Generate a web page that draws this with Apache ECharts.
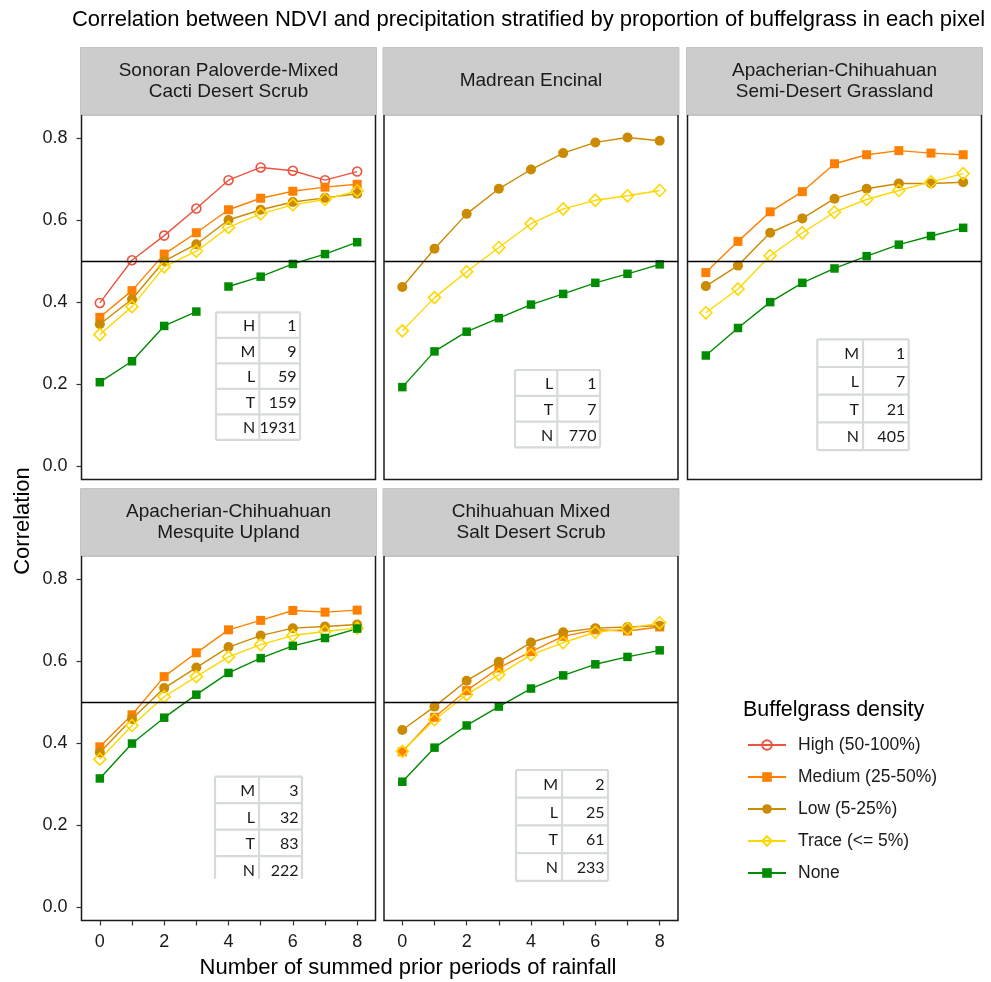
<!DOCTYPE html>
<html><head><meta charset="utf-8">
<script src="https://cdn.jsdelivr.net/npm/echarts@6/dist/echarts.min.js"></script>
<style>html,body{margin:0;padding:0;background:#fff}#c{width:991px;height:982px}</style>
</head><body><div id="c"></div>
<script>
// ---------------- data ----------------
const periods = [0, 1, 2, 3, 4, 5, 6, 7, 8];
const xTickLabels = [0, 2, 4, 6, 8];
const yTicks = [0, 0.2, 0.4, 0.6, 0.8];
const refLine = 0.5;
const densityNames = ['High (50-100%)', 'Medium (25-50%)', 'Low (5-25%)', 'Trace (<= 5%)', 'None'];
const panelNames = [
  'Sonoran Paloverde-Mixed\nCacti Desert Scrub',
  'Madrean Encinal',
  'Apacherian-Chihuahuan\nSemi-Desert Grassland',
  'Apacherian-Chihuahuan\nMesquite Upland',
  'Chihuahuan Mixed\nSalt Desert Scrub'
];

const sonoranHigh   = [0.398, 0.502, 0.562, 0.628, 0.697, 0.728, 0.720, 0.697, 0.718];
const sonoranMedium = [0.363, 0.428, 0.517, 0.569, 0.625, 0.653, 0.670, 0.680, 0.687];
const sonoranLow    = [0.346, 0.407, 0.500, 0.541, 0.600, 0.625, 0.644, 0.654, 0.664];
const sonoranTrace  = [0.321, 0.389, 0.486, 0.524, 0.582, 0.615, 0.637, 0.650, 0.671];
const sonoranNone   = [0.205, 0.256, 0.342, 0.377, 0.438, 0.462, 0.493, 0.517, 0.546];
const sonoranNoneRestart = 4; // line is broken between period 3 and period 4

const madreanLow   = [0.437, 0.530, 0.615, 0.676, 0.723, 0.763, 0.789, 0.801, 0.793];
const madreanTrace = [0.330, 0.411, 0.474, 0.533, 0.591, 0.627, 0.648, 0.659, 0.672];
const madreanNone  = [0.193, 0.280, 0.328, 0.361, 0.394, 0.420, 0.447, 0.469, 0.492];

const grasslandMedium = [0.472, 0.548, 0.620, 0.669, 0.737, 0.759, 0.769, 0.763, 0.759];
const grasslandLow    = [0.439, 0.489, 0.569, 0.604, 0.652, 0.676, 0.689, 0.689, 0.692];
const grasslandTrace  = [0.374, 0.432, 0.513, 0.569, 0.619, 0.650, 0.672, 0.693, 0.713];
const grasslandNone   = [0.270, 0.337, 0.400, 0.447, 0.482, 0.512, 0.540, 0.561, 0.581];

const mesquiteMedium = [0.391, 0.469, 0.562, 0.620, 0.676, 0.699, 0.723, 0.719, 0.724];
const mesquiteLow    = [0.377, 0.459, 0.534, 0.584, 0.634, 0.662, 0.680, 0.684, 0.689];
const mesquiteTrace  = [0.361, 0.443, 0.513, 0.562, 0.610, 0.640, 0.662, 0.672, 0.680];
const mesquiteNone   = [0.314, 0.399, 0.462, 0.518, 0.571, 0.607, 0.637, 0.656, 0.679];

const saltMedium = [0.379, 0.463, 0.528, 0.583, 0.623, 0.660, 0.676, 0.673, 0.683];
const saltLow    = [0.432, 0.489, 0.552, 0.598, 0.645, 0.670, 0.680, 0.683, 0.686];
const saltTrace  = [0.380, 0.457, 0.518, 0.567, 0.615, 0.645, 0.670, 0.679, 0.693];
const saltNone   = [0.306, 0.389, 0.443, 0.489, 0.533, 0.565, 0.592, 0.610, 0.626];

// pixel counts tables
const sonoranTableKeys = ['H', 'M', 'L', 'T', 'N'];
const sonoranTableCounts = [1, 9, 59, 159, 1931];
const madreanTableKeys = ['L', 'T', 'N'];
const madreanTableCounts = [1, 7, 770];
const grasslandTableKeys = ['M', 'L', 'T', 'N'];
const grasslandTableCounts = [1, 7, 21, 405];
const mesquiteTableKeys = ['M', 'L', 'T', 'N'];
const mesquiteTableCounts = [3, 32, 83, 222];
const saltTableKeys = ['M', 'L', 'T', 'N'];
const saltTableCounts = [2, 25, 61, 233];

// ---------------- layout / style ----------------
const FONT = '"Liberation Sans", Arial, sans-serif';
const TXT = '#1a1a1a';
const panelBoxes = [
  {left: 81.5, top: 114.5, width: 294, height: 365},
  {left: 384, top: 114.5, width: 294, height: 365},
  {left: 687.5, top: 114.5, width: 294, height: 365},
  {left: 81.5, top: 555.5, width: 294, height: 365},
  {left: 384, top: 555.5, width: 294, height: 365}
];
const stripHeight = 67;
const X_MIN = -0.57, X_MAX = 8.57, Y_MIN = -0.032, Y_MAX = 0.857;

const densityStyles = [
  {color: '#EA5540', symbol: 'circle', hollow: true, size: 9},
  {color: '#FF8000', symbol: 'rect', hollow: false, size: 9},
  {color: '#CC8A00', symbol: 'circle', hollow: false, size: 10},
  {color: '#FFD700', symbol: 'diamond', hollow: true, size: 12},
  {color: '#008C00', symbol: 'rect', hollow: false, size: 8.5}
];

const panelData = [
  [sonoranHigh, sonoranMedium, sonoranLow, sonoranTrace, sonoranNone],
  [null, null, madreanLow, madreanTrace, madreanNone],
  [null, grasslandMedium, grasslandLow, grasslandTrace, grasslandNone],
  [null, mesquiteMedium, mesquiteLow, mesquiteTrace, mesquiteNone],
  [null, saltMedium, saltLow, saltTrace, saltNone]
];
const panelBreaks = [{4: sonoranNoneRestart}, {}, {}, {}, {}];

const tables = [
  {keys: sonoranTableKeys, counts: sonoranTableCounts, x: 216, y: 312.3, w1: 43.3, w2: 40.7, h: 25.5, open: false},
  {keys: madreanTableKeys, counts: madreanTableCounts, x: 515, y: 370, w1: 42.3, w2: 42.7, h: 25.8, open: false},
  {keys: grasslandTableKeys, counts: grasslandTableCounts, x: 817.3, y: 339.3, w1: 45.7, w2: 45.7, h: 27.7, open: false},
  {keys: mesquiteTableKeys, counts: mesquiteTableCounts, x: 215, y: 776.7, w1: 44, w2: 43, h: 26.5, open: true},
  {keys: saltTableKeys, counts: saltTableCounts, x: 516, y: 770, w1: 46, w2: 46, h: 27.7, open: false}
];

// ---------------- build option ----------------
const grids = [], xAxes = [], yAxes = [], series = [], graphics = [];

panelBoxes.forEach((b, p) => {
  grids.push({left: b.left, top: b.top, width: b.width, height: b.height, show: true,
    backgroundColor: '#fff', borderColor: '#1a1a1a', borderWidth: 1.5, containLabel: false, outerBoundsMode: 'none'});
  xAxes.push({type: 'value', gridIndex: p, min: X_MIN, max: X_MAX, show: p >= 3, position: 'bottom',
    axisLine: {show: false, onZero: false}, splitLine: {show: false},
    axisTick: {show: true, inside: false, customValues: periods, length: 5, lineStyle: {color: '#333', width: 1.2}},
    axisLabel: {customValues: xTickLabels, fontSize: 18, color: TXT, fontFamily: FONT, margin: 13}
  });
  yAxes.push({type: 'value', gridIndex: p, min: Y_MIN, max: Y_MAX, show: p === 0 || p === 3, position: 'left',
    axisLine: {show: false, onZero: false}, splitLine: {show: false},
    axisTick: {show: true, inside: false, customValues: yTicks, length: 5, lineStyle: {color: '#333', width: 1.2}},
    axisLabel: {customValues: yTicks, fontSize: 18, color: TXT, fontFamily: FONT, margin: 14,
      formatter: v => Number(v).toFixed(1)}
  });

  let first = true;
  panelData[p].forEach((arr, d) => {
    if (!arr) return;
    const st = densityStyles[d];
    const restart = panelBreaks[p][d];
    const segments = restart !== undefined ? [[0, restart], [restart, arr.length]] : [[0, arr.length]];
    segments.forEach(seg => {
      const data = [];
      for (let i = seg[0]; i < seg[1]; i++) data.push([periods[i], arr[i]]);
      const s = {
        type: 'line', name: densityNames[d], xAxisIndex: p, yAxisIndex: p, data,
        symbol: st.symbol, symbolSize: st.size, showSymbol: true, animation: false, silent: true,
        lineStyle: {color: st.color, width: 1.4},
        itemStyle: st.hollow ? {color: 'rgba(255,255,255,0)', borderColor: st.color, borderWidth: 1.6}
                             : {color: st.color, borderWidth: 0},
        emphasis: {disabled: true}
      };
      if (first) {
        s.markLine = {silent: true, symbol: 'none', animation: false, label: {show: false},
          lineStyle: {color: '#000', width: 1.3, type: 'solid'}, data: [{yAxis: refLine}]};
        first = false;
      }
      series.push(s);
    });
  });

  // strip
  graphics.push({type: 'rect', silent: true,
    shape: {x: b.left - 1, y: b.top - stripHeight, width: b.width + 2, height: stripHeight},
    style: {fill: '#cccccc', stroke: '#c4c4c4', lineWidth: 1}});
  graphics.push({type: 'text', silent: true, x: b.left + b.width / 2, y: b.top - stripHeight / 2,
    style: {text: panelNames[p], fontSize: 19, fontFamily: FONT, fill: TXT, align: 'center',
      verticalAlign: 'middle', lineHeight: 21}});
});

// count tables
tables.forEach(t => {
  const n = t.keys.length;
  const W = t.w1 + t.w2, H = t.h * n;
  const lc = '#d6dada', lw = 2.2;
  graphics.push({type: 'rect', silent: true, shape: {x: t.x, y: t.y, width: W, height: H}, style: {fill: '#fff'}, z: 10});
  for (let r = 0; r <= n; r++) {
    if (r === n && t.open) continue;
    graphics.push({type: 'line', silent: true, z: 11,
      shape: {x1: t.x, y1: t.y + r * t.h, x2: t.x + W, y2: t.y + r * t.h}, style: {stroke: lc, lineWidth: lw}});
  }
  const vBottom = t.open ? t.y + H - 4 : t.y + H;
  [t.x, t.x + t.w1, t.x + W].forEach(vx => {
    graphics.push({type: 'line', silent: true, z: 11,
      shape: {x1: vx, y1: t.y, x2: vx, y2: vBottom}, style: {stroke: lc, lineWidth: lw}});
  });
  t.keys.forEach((k, r) => {
    const cy = t.y + r * t.h + t.h / 2 + 1;
    graphics.push({type: 'text', silent: true, z: 12, x: t.x + t.w1 - 4, y: cy,
      style: {text: k, fontSize: 16, fontFamily: 'Lato, "Open Sans", sans-serif', fill: TXT, align: 'right', verticalAlign: 'middle'}});
    graphics.push({type: 'text', silent: true, z: 12, x: t.x + W - 3.5, y: cy,
      style: {text: String(t.counts[r]), fontSize: 16, fontFamily: 'Lato, "Open Sans", sans-serif', fill: TXT, align: 'right', verticalAlign: 'middle'}});
  });
});

// titles
graphics.push({type: 'text', silent: true, x: 528.5, y: 20,
  style: {text: 'Correlation between NDVI and precipitation stratified by proportion of buffelgrass in each pixel',
    fontSize: 22, fontFamily: FONT, fill: '#000', align: 'center', verticalAlign: 'middle'}});
graphics.push({type: 'text', silent: true, x: 408, y: 968,
  style: {text: 'Number of summed prior periods of rainfall', fontSize: 22, fontFamily: FONT, fill: '#000',
    align: 'center', verticalAlign: 'middle'}});
graphics.push({type: 'text', silent: true, x: 23, y: 521, rotation: Math.PI / 2,
  style: {text: 'Correlation', fontSize: 22, fontFamily: FONT, fill: '#000', align: 'center', verticalAlign: 'middle'}});
graphics.push({type: 'text', silent: true, x: 743, y: 710,
  style: {text: 'Buffelgrass density', fontSize: 21.5, fontFamily: FONT, fill: '#000', align: 'left', verticalAlign: 'middle'}});

const option = {
  backgroundColor: '#fff',
  animation: false,
  grid: grids,
  xAxis: xAxes,
  yAxis: yAxes,
  series: series,
  legend: {
    data: densityNames, orient: 'vertical', left: 742, top: 730,
    itemWidth: 38, itemHeight: 12, itemGap: 12, selectedMode: false,
    textStyle: {fontSize: 17.5, fontFamily: FONT, color: TXT, lineHeight: 20, padding: [0, 0, 0, 7]}
  },
  graphic: graphics
};

const chart = echarts.init(document.getElementById('c'), null, {renderer: 'canvas'});
chart.setOption(option);
</script>
</body></html>
